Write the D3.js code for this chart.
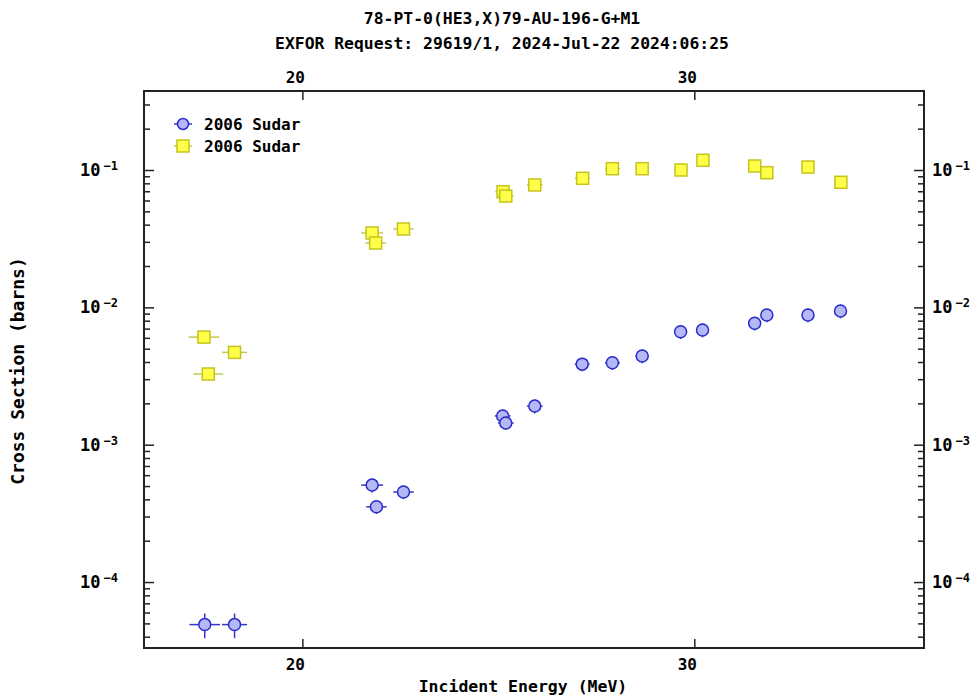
<!DOCTYPE html>
<html>
<head>
<meta charset="utf-8">
<script src="https://cdn.jsdelivr.net/npm/d3@7"></script>
<style>
  html, body { margin: 0; padding: 0; background: #fff; }
  svg text { font-family: "DejaVu Sans Mono", "Liberation Mono", monospace; font-weight: bold; fill: #000; }
</style>
</head>
<body>
<svg id="chart" width="979" height="696"></svg>
<script>
// Titles and axis captions
const titleLines = ["78-PT-0(HE3,X)79-AU-196-G+M1", "EXFOR Request: 29619/1, 2024-Jul-22 2024:06:25"];
const xTitle = "Incident Energy (MeV)";
const yTitle = "Cross Section (barns)";
const xTickValues = [20, 30];
const yDecades = [-4, -3, -2, -1];
const legendLabels = ["2006 Sudar", "2006 Sudar"];

// Series 1 (circles): energy (MeV), cross section (b) and uncertainties
const circE  = [17.51, 18.27, 21.78, 21.89, 22.58, 25.11, 25.19, 25.93, 27.14, 27.91, 28.67, 29.65, 30.21, 31.54, 31.85, 32.90, 33.73];
const circV  = [4.9e-5, 4.9e-5, 5.08e-4, 3.53e-4, 4.52e-4, 1.62e-3, 1.44e-3, 1.91e-3, 3.86e-3, 3.95e-3, 4.42e-3, 6.64e-3, 6.84e-3, 7.65e-3, 8.79e-3, 8.79e-3, 9.4e-3];
const circDE = [0.39, 0.32, 0.28, 0.26, 0.26, 0.20, 0.20, 0.20, 0.19, 0.19, 0.17, 0.17, 0.15, 0.15, 0.15, 0.15, 0.15];
const circDV = [1.0e-5, 1.0e-5, 6e-5, 4e-5, 5e-5, 1.8e-4, 1.6e-4, 2.2e-4, 4.4e-4, 4.5e-4, 5.1e-4, 7.6e-4, 7.9e-4, 8.8e-4, 1.0e-3, 1.0e-3, 1.08e-3];

// Series 2 (squares)
const sqE  = [17.49, 18.27, 17.60, 21.78, 21.87, 22.58, 25.12, 25.19, 25.93, 27.15, 27.91, 28.67, 29.66, 30.22, 31.54, 31.85, 32.90, 33.74];
const sqV  = [6.07e-3, 4.70e-3, 3.27e-3, 3.48e-2, 2.94e-2, 3.72e-2, 6.95e-2, 6.46e-2, 7.78e-2, 8.70e-2, 0.1022, 0.1022, 0.100, 0.1177, 0.1069, 0.0956, 0.1051, 0.0814];
const sqDE = [0.39, 0.32, 0.38, 0.28, 0.26, 0.26, 0.20, 0.20, 0.20, 0.19, 0.19, 0.17, 0.17, 0.15, 0.15, 0.15, 0.15, 0.15];
const sqDV = [3.6e-4, 2.8e-4, 2.0e-4, 2.1e-3, 1.8e-3, 2.2e-3, 4.2e-3, 3.9e-3, 4.7e-3, 5.2e-3, 6.1e-3, 6.1e-3, 6.0e-3, 7.1e-3, 6.4e-3, 5.7e-3, 6.3e-3, 4.9e-3];

const pLeft = 144, pRight = 924, pTop = 91, pBottom = 648;
const svg = d3.select("#chart");

const x = d3.scaleLinear().domain([15.96, 35.86]).range([pLeft, pRight]);
const y = d3.scaleLog().domain([3.31e-5, 0.376]).range([pBottom, pTop]);

const circStyle = { fill: "#b4b8f4", stroke: "#2b2bcc", bar: "#3535cc" };
const sqStyle   = { fill: "#ffff4a", stroke: "#c4c41e", bar: "#c8c850" };

// Titles
svg.selectAll("text.title").data(titleLines).join("text")
  .attr("class", "title")
  .attr("x", 502).attr("y", (d, i) => 24 + i * 25)
  .attr("text-anchor", "middle").attr("font-size", 16.4)
  .text(d => d);

// Axes
const frame = svg.append("g");
const majors = yDecades.map(e => Math.pow(10, e));
const minors = y.ticks().filter(v => !majors.some(m => Math.abs(v - m) / m < 1e-9));

function styleAxis(g) {
  g.select(".domain").remove();
  g.selectAll(".tick line").attr("stroke", "#222").attr("stroke-width", 1.5);
  g.selectAll(".tick text").remove();
}

frame.append("g").attr("transform", `translate(0,${pBottom})`)
  .call(d3.axisBottom(x).tickValues(xTickValues).tickSize(-9)).call(styleAxis);
frame.append("g").attr("transform", `translate(0,${pTop})`)
  .call(d3.axisTop(x).tickValues(xTickValues).tickSize(-9)).call(styleAxis);
frame.append("g").attr("transform", `translate(${pLeft},0)`)
  .call(d3.axisLeft(y).tickValues(majors).tickSize(-10)).call(styleAxis);
frame.append("g").attr("transform", `translate(${pLeft},0)`)
  .call(d3.axisLeft(y).tickValues(minors).tickSize(-6)).call(styleAxis);
frame.append("g").attr("transform", `translate(${pRight},0)`)
  .call(d3.axisRight(y).tickValues(majors).tickSize(-10)).call(styleAxis);
frame.append("g").attr("transform", `translate(${pRight},0)`)
  .call(d3.axisRight(y).tickValues(minors).tickSize(-6)).call(styleAxis);

frame.append("rect")
  .attr("x", pLeft).attr("y", pTop).attr("width", pRight - pLeft).attr("height", pBottom - pTop)
  .attr("fill", "none").attr("stroke", "#222").attr("stroke-width", 2);

// X tick labels, top and bottom
[pBottom + 22, pTop - 8].forEach(ty => {
  svg.append("g").selectAll("text").data(xTickValues).join("text")
    .attr("x", d => x(d) - 7).attr("y", ty)
    .attr("text-anchor", "middle").attr("font-size", 16)
    .text(d => d);
});

// Y tick labels with superscript exponents
function decadeLabels(x0) {
  const t = svg.append("g").selectAll("text").data(yDecades).join("text")
    .attr("x", x0).attr("y", d => y(Math.pow(10, d)) + 6)
    .attr("font-size", 17);
  t.append("tspan").text("10");
  t.append("tspan").attr("font-size", 12).attr("dx", 3).attr("dy", -6).text(d => "\u2212" + (-d));
}
decadeLabels(80);
decadeLabels(932);

// Axis titles
svg.append("text").attr("x", 523).attr("y", 692).attr("text-anchor", "middle")
  .attr("font-size", 16.5).text(xTitle);
svg.append("text").attr("transform", "translate(24,371) rotate(-90)")
  .attr("text-anchor", "middle").attr("font-size", 18).text(yTitle);

// Data
const plot = svg.append("g");

function drawSeries(E, V, DE, DV, st, shape) {
  const pts = E.map((e, i) => ({ e, v: V[i], de: DE[i], dv: DV[i] }));
  const g = plot.append("g");
  pts.forEach(p => {
    const gp = g.append("g");
    gp.append("line")
      .attr("x1", x(p.e - p.de)).attr("x2", x(p.e + p.de))
      .attr("y1", y(p.v)).attr("y2", y(p.v))
      .attr("stroke", st.bar).attr("stroke-width", 1.5);
    gp.append("line")
      .attr("x1", x(p.e)).attr("x2", x(p.e))
      .attr("y1", y(p.v - p.dv)).attr("y2", y(p.v + p.dv))
      .attr("stroke", st.bar).attr("stroke-width", 1.5);
    if (shape === "circle") {
      gp.append("circle").attr("cx", x(p.e)).attr("cy", y(p.v)).attr("r", 6)
        .attr("fill", st.fill).attr("stroke", st.stroke).attr("stroke-width", 1.5);
    } else {
      gp.append("rect").attr("x", x(p.e) - 6).attr("y", y(p.v) - 6)
        .attr("width", 12).attr("height", 12)
        .attr("fill", st.fill).attr("stroke", st.stroke).attr("stroke-width", 1.5);
    }
  });
}
drawSeries(circE, circV, circDE, circDV, circStyle, "circle");
drawSeries(sqE, sqV, sqDE, sqDV, sqStyle, "square");

// Legend
const legend = svg.append("g");
[[circStyle, "circle", 124], [sqStyle, "square", 146]].forEach(([st, shape, ly], i) => {
  legend.append("line").attr("x1", 174).attr("x2", 192).attr("y1", ly).attr("y2", ly)
    .attr("stroke", st.bar).attr("stroke-width", 1.5);
  if (shape === "circle") {
    legend.append("circle").attr("cx", 183).attr("cy", ly).attr("r", 5.5)
      .attr("fill", st.fill).attr("stroke", st.stroke).attr("stroke-width", 1.5);
  } else {
    legend.append("rect").attr("x", 177).attr("y", ly - 6).attr("width", 12).attr("height", 12)
      .attr("fill", st.fill).attr("stroke", st.stroke).attr("stroke-width", 1.5);
  }
  legend.append("text").attr("x", 204).attr("y", ly + 6).attr("font-size", 16).text(legendLabels[i]);
});
</script>
</body>
</html>
